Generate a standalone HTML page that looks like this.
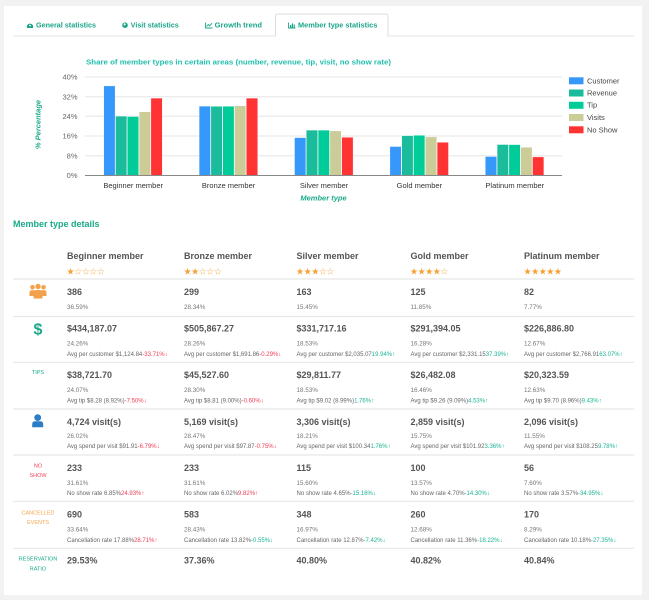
<!DOCTYPE html>
<html><head><meta charset="utf-8"><style>
html,body{margin:0;padding:0;background:#f2f2f2;}
svg{display:block;}
text{font-family:"Liberation Sans",sans-serif;}
.st{font-family:"DejaVu Sans",sans-serif;}
</style></head><body>
<svg width="649" height="600" viewBox="0 0 649 600" xmlns="http://www.w3.org/2000/svg">
<rect x="0" y="0" width="649" height="600" fill="#f2f2f2"/>
<rect x="4" y="6" width="638" height="589" fill="#ffffff"/>

<!-- Tabs -->
<line x1="13" y1="36" x2="634" y2="36" stroke="#e6e6e6" stroke-width="1"/>
<path d="M275.5 36.5 V16 Q275.5 14 277.5 14 H386 Q388 14 388 16 V36.5" fill="#fff" stroke="#dedede" stroke-width="1"/>
<line x1="276" y1="36" x2="387.5" y2="36" stroke="#fff" stroke-width="1.5"/>
<g fill="#1aa589" font-size="7" font-weight="bold">
  <path d="M27 28 A3.2 3.2 0 1 1 33 28 Z" fill="#1aa589"/>
  <circle cx="30" cy="25.5" r="0.9" fill="#fff"/>
  <text x="36" y="27.6" textLength="60" lengthAdjust="spacingAndGlyphs">General statistics</text>
  <circle cx="125" cy="25.2" r="2.8" fill="#1aa589"/>
  <path d="M123.5 24 l1.5 -1 l0.8 1.5 l-1.5 1.2 z" fill="#fff"/>
  <text x="130.7" y="27.6" textLength="48" lengthAdjust="spacingAndGlyphs">Visit statistics</text>
  <path d="M205.5 22.5 V28 H212.5" fill="none" stroke="#1aa589" stroke-width="0.9"/>
  <path d="M206.5 26.5 L208.3 24.5 L209.6 25.8 L212 23.2" fill="none" stroke="#1aa589" stroke-width="0.9"/>
  <text x="214.7" y="27.6" textLength="47.3" lengthAdjust="spacingAndGlyphs">Growth trend</text>
  <path d="M288.5 22.5 V28 H295.5" fill="none" stroke="#1aa589" stroke-width="0.9"/>
  <rect x="290" y="25" width="1.2" height="2.5"/>
  <rect x="291.8" y="23.5" width="1.2" height="4"/>
  <rect x="293.6" y="24.5" width="1.2" height="3"/>
  <text x="298" y="27.6" textLength="79.3" lengthAdjust="spacingAndGlyphs">Member type statistics</text>
</g>

<!-- Chart title -->
<text x="86" y="64.5" font-size="7.3" font-weight="bold" fill="#22bfae" textLength="305" lengthAdjust="spacingAndGlyphs">Share of member types in certain areas (number, revenue, tip, visit, no show rate)</text>

<!-- gridlines -->
<g stroke="#e6e6e6" stroke-width="1">
  <line x1="85" y1="77" x2="562" y2="77"/>
  <line x1="85" y1="96.7" x2="562" y2="96.7"/>
  <line x1="85" y1="116.3" x2="562" y2="116.3"/>
  <line x1="85" y1="136" x2="562" y2="136"/>
  <line x1="85" y1="155.7" x2="562" y2="155.7"/>
</g>
<g font-size="7.5" fill="#666" text-anchor="end">
  <text x="77.5" y="79.7">40%</text>
  <text x="77.5" y="99.4">32%</text>
  <text x="77.5" y="119">24%</text>
  <text x="77.5" y="138.7">16%</text>
  <text x="77.5" y="158.4">8%</text>
  <text x="77.5" y="178.2">0%</text>
</g>
<text transform="translate(40.5,124.5) rotate(-90)" text-anchor="middle" font-size="7.5" font-weight="bold" font-style="italic" fill="#1aaa8a">% Percentage</text>

<!-- bars -->
<g stroke="#ffffff" stroke-width="0.4">
  <rect x="103.7" y="85.9" width="11.4" height="89.6" fill="#3598fa"/>
  <rect x="115.5" y="116.1" width="11.4" height="59.4" fill="#1abc9c"/>
  <rect x="127.3" y="116.5" width="11.4" height="59" fill="#00cc99"/>
  <rect x="139.1" y="111.8" width="11.4" height="63.7" fill="#cccc99"/>
  <rect x="150.9" y="98.1" width="11.4" height="77.4" fill="#ff3333"/>
  <rect x="199.1" y="106.1" width="11.4" height="69.4" fill="#3598fa"/>
  <rect x="210.9" y="106.3" width="11.4" height="69.2" fill="#1abc9c"/>
  <rect x="222.7" y="106.2" width="11.4" height="69.3" fill="#00cc99"/>
  <rect x="234.5" y="105.7" width="11.4" height="69.8" fill="#cccc99"/>
  <rect x="246.3" y="98.1" width="11.4" height="77.4" fill="#ff3333"/>
  <rect x="294.5" y="137.6" width="11.4" height="37.9" fill="#3598fa"/>
  <rect x="306.3" y="130.1" width="11.4" height="45.4" fill="#1abc9c"/>
  <rect x="318.1" y="130.1" width="11.4" height="45.4" fill="#00cc99"/>
  <rect x="329.9" y="130.9" width="11.4" height="44.6" fill="#cccc99"/>
  <rect x="341.7" y="137.3" width="11.4" height="38.2" fill="#ff3333"/>
  <rect x="389.9" y="146.5" width="11.4" height="29" fill="#3598fa"/>
  <rect x="401.7" y="135.6" width="11.4" height="39.9" fill="#1abc9c"/>
  <rect x="413.5" y="135.2" width="11.4" height="40.3" fill="#00cc99"/>
  <rect x="425.3" y="136.9" width="11.4" height="38.6" fill="#cccc99"/>
  <rect x="437.1" y="142.3" width="11.4" height="33.2" fill="#ff3333"/>
  <rect x="485.3" y="156.5" width="11.4" height="19" fill="#3598fa"/>
  <rect x="497.1" y="144.5" width="11.4" height="31" fill="#1abc9c"/>
  <rect x="508.9" y="144.6" width="11.4" height="30.9" fill="#00cc99"/>
  <rect x="520.7" y="147.2" width="11.4" height="28.3" fill="#cccc99"/>
  <rect x="532.5" y="156.9" width="11.4" height="18.6" fill="#ff3333"/>
</g>
<line x1="85" y1="175.5" x2="562" y2="175.5" stroke="#888" stroke-width="1"/>
<g font-size="7.5" fill="#333" text-anchor="middle">
  <text x="133.2" y="187.8">Beginner member</text>
  <text x="228.6" y="187.8">Bronze member</text>
  <text x="324" y="187.8">Silver member</text>
  <text x="419.4" y="187.8">Gold member</text>
  <text x="514.8" y="187.8">Platinum member</text>
</g>
<text x="323.5" y="200.3" text-anchor="middle" font-size="7.5" font-weight="bold" font-style="italic" fill="#1aaa8a">Member type</text>

<!-- legend -->
<rect x="569" y="77.3" width="14.5" height="7" fill="#3598fa"/>
<rect x="569" y="89.5" width="14.5" height="7" fill="#1abc9c"/>
<rect x="569" y="101.8" width="14.5" height="7" fill="#00cc99"/>
<rect x="569" y="114" width="14.5" height="7" fill="#cccc99"/>
<rect x="569" y="126.3" width="14.5" height="7" fill="#ff3333"/>
<g font-size="7.5" fill="#444">
  <text x="587" y="83.3">Customer</text>
  <text x="587" y="95.4">Revenue</text>
  <text x="587" y="107.7">Tip</text>
  <text x="587" y="120">Visits</text>
  <text x="587" y="132.3">No Show</text>
</g>

<!-- Member type details -->
<text x="13" y="227.2" font-size="9" font-weight="bold" fill="#1aaa8a">Member type details</text>

<g font-size="9" font-weight="bold" fill="#555">
  <text x="67" y="259.2">Beginner member</text>
  <text x="184" y="259.2">Bronze member</text>
  <text x="296.5" y="259.2">Silver member</text>
  <text x="410.5" y="259.2">Gold member</text>
  <text x="524" y="259.2">Platinum member</text>
</g>
<g class="st" font-size="8.8" fill="#f5a030">
  <text x="66.5" y="274.3">★</text><text x="74.1" y="274.3">☆</text><text x="81.7" y="274.3">☆</text><text x="89.3" y="274.3">☆</text><text x="96.9" y="274.3">☆</text>
  <text x="183.5" y="274.3">★</text><text x="191.1" y="274.3">★</text><text x="198.7" y="274.3">☆</text><text x="206.3" y="274.3">☆</text><text x="213.9" y="274.3">☆</text>
  <text x="296" y="274.3">★</text><text x="303.6" y="274.3">★</text><text x="311.2" y="274.3">★</text><text x="318.8" y="274.3">☆</text><text x="326.4" y="274.3">☆</text>
  <text x="410" y="274.3">★</text><text x="417.6" y="274.3">★</text><text x="425.2" y="274.3">★</text><text x="432.8" y="274.3">★</text><text x="440.4" y="274.3">☆</text>
  <text x="523.5" y="274.3">★</text><text x="531.1" y="274.3">★</text><text x="538.7" y="274.3">★</text><text x="546.3" y="274.3">★</text><text x="553.9" y="274.3">★</text>
</g>

<g stroke="#e8e8e8" stroke-width="1.2">
  <line x1="13" y1="279" x2="634" y2="279"/>
  <line x1="13" y1="316.5" x2="634" y2="316.5"/>
  <line x1="13" y1="362.3" x2="634" y2="362.3"/>
  <line x1="13" y1="409" x2="634" y2="409"/>
  <line x1="13" y1="455" x2="634" y2="455"/>
  <line x1="13" y1="501.3" x2="634" y2="501.3"/>
  <line x1="13" y1="548.3" x2="634" y2="548.3"/>
</g>

<g fill="#f2a24a">
  <circle cx="32.5" cy="287.3" r="2.3"/>
  <circle cx="43.5" cy="287.3" r="2.3"/>
  <circle cx="38" cy="286.5" r="2.7"/>
  <path d="M29.5 296 V292.5 Q29.5 290.3 31.8 290.3 H35 V296 Z"/>
  <path d="M46.5 296 V292.5 Q46.5 290.3 44.2 290.3 H41 V296 Z"/>
  <path d="M33.5 298.5 V293 Q33.5 290 36.5 290 H39.5 Q42.5 290 42.5 293 V298.5 Z"/>
</g>
<text x="38" y="334.3" text-anchor="middle" font-size="16" font-weight="bold" fill="#1aa88a">$</text>
<text x="38" y="374" text-anchor="middle" font-size="5.5" fill="#1aaa8a">TIPS</text>
<g fill="#2a7dc6">
  <circle cx="37.7" cy="417.6" r="3.4"/>
  <path d="M32.2 427.2 V424.2 Q32.2 421.3 35.2 421.3 H40.2 Q43.2 421.3 43.2 424.2 V427.2 Z"/>
</g>
<g font-size="5.5" text-anchor="middle">
  <text x="38" y="467.7" fill="#f0455a">NO</text>
  <text x="38" y="477" fill="#f0455a">SHOW</text>
  <text x="38" y="514.3" fill="#f5a54a">CANCELLED</text>
  <text x="38" y="524" fill="#f5a54a">EVENTS</text>
  <text x="38" y="560.3" fill="#1aaa8a">RESERVATION</text>
  <text x="38" y="570.7" fill="#1aaa8a">RATIO</text>
</g>

<g font-size="9" font-weight="bold" fill="#555">
  <text x="67" y="295">386</text><text x="184" y="295">299</text><text x="296.5" y="295">163</text><text x="410.5" y="295">125</text><text x="524" y="295">82</text>
  <text x="67" y="331.5">$434,187.07</text><text x="184" y="331.5">$505,867.27</text><text x="296.5" y="331.5">$331,717.16</text><text x="410.5" y="331.5">$291,394.05</text><text x="524" y="331.5">$226,886.80</text>
  <text x="67" y="378">$38,721.70</text><text x="184" y="378">$45,527.60</text><text x="296.5" y="378">$29,811.77</text><text x="410.5" y="378">$26,482.08</text><text x="524" y="378">$20,323.59</text>
  <text x="67" y="424.8">4,724 visit(s)</text><text x="184" y="424.8">5,169 visit(s)</text><text x="296.5" y="424.8">3,306 visit(s)</text><text x="410.5" y="424.8">2,859 visit(s)</text><text x="524" y="424.8">2,096 visit(s)</text>
  <text x="67" y="470.8">233</text><text x="184" y="470.8">233</text><text x="296.5" y="470.8">115</text><text x="410.5" y="470.8">100</text><text x="524" y="470.8">56</text>
  <text x="67" y="517.4">690</text><text x="184" y="517.4">583</text><text x="296.5" y="517.4">348</text><text x="410.5" y="517.4">260</text><text x="524" y="517.4">170</text>
  <text x="67" y="563.4">29.53%</text><text x="184" y="563.4">37.36%</text><text x="296.5" y="563.4">40.80%</text><text x="410.5" y="563.4">40.82%</text><text x="524" y="563.4">40.84%</text>
</g>

<g font-size="6.3" fill="#777">
  <text x="67" y="309.2">36.59%</text><text x="184" y="309.2">28.34%</text><text x="296.5" y="309.2">15.45%</text><text x="410.5" y="309.2">11.85%</text><text x="524" y="309.2">7.77%</text>
  <text x="67" y="345.7">24.26%</text><text x="184" y="345.7">28.26%</text><text x="296.5" y="345.7">18.53%</text><text x="410.5" y="345.7">16.28%</text><text x="524" y="345.7">12.67%</text>
  <text x="67" y="391.9">24.07%</text><text x="184" y="391.9">28.30%</text><text x="296.5" y="391.9">18.53%</text><text x="410.5" y="391.9">16.46%</text><text x="524" y="391.9">12.63%</text>
  <text x="67" y="438.2">26.02%</text><text x="184" y="438.2">28.47%</text><text x="296.5" y="438.2">18.21%</text><text x="410.5" y="438.2">15.75%</text><text x="524" y="438.2">11.55%</text>
  <text x="67" y="484.9">31.61%</text><text x="184" y="484.9">31.61%</text><text x="296.5" y="484.9">15.60%</text><text x="410.5" y="484.9">13.57%</text><text x="524" y="484.9">7.60%</text>
  <text x="67" y="531.5">33.64%</text><text x="184" y="531.5">28.43%</text><text x="296.5" y="531.5">16.97%</text><text x="410.5" y="531.5">12.68%</text><text x="524" y="531.5">8.29%</text>
</g>

<g font-size="6" fill="#666">
  <text x="67" y="356.2">Avg per customer $1,124.84<tspan fill="#f03c55">-33.71%↓</tspan></text>
  <text x="184" y="356.2">Avg per customer $1,691.86<tspan fill="#f03c55">-0.29%↓</tspan></text>
  <text x="296.5" y="356.2">Avg per customer $2,035.07<tspan fill="#1ab394">19.94%↑</tspan></text>
  <text x="410.5" y="356.2">Avg per customer $2,331.15<tspan fill="#1ab394">37.39%↑</tspan></text>
  <text x="524" y="356.2">Avg per customer $2,766.91<tspan fill="#1ab394">63.07%↑</tspan></text>

  <text x="67" y="402.5">Avg tip $8.28 (8.92%)<tspan fill="#f03c55">-7.50%↓</tspan></text>
  <text x="184" y="402.5">Avg tip $8.81 (9.00%)<tspan fill="#f03c55">-0.60%↓</tspan></text>
  <text x="296.5" y="402.5">Avg tip $9.02 (8.99%)<tspan fill="#1ab394">1.76%↑</tspan></text>
  <text x="410.5" y="402.5">Avg tip $9.26 (9.09%)<tspan fill="#1ab394">4.53%↑</tspan></text>
  <text x="524" y="402.5">Avg tip $9.70 (8.96%)<tspan fill="#1ab394">9.43%↑</tspan></text>

  <text x="67" y="447.9">Avg spend per visit $91.91<tspan fill="#f03c55">-6.79%↓</tspan></text>
  <text x="184" y="447.9">Avg spend per visit $97.87<tspan fill="#f03c55">-0.75%↓</tspan></text>
  <text x="296.5" y="447.9">Avg spend per visit $100.34<tspan fill="#1ab394">1.76%↑</tspan></text>
  <text x="410.5" y="447.9">Avg spend per visit $101.92<tspan fill="#1ab394">3.36%↑</tspan></text>
  <text x="524" y="447.9">Avg spend per visit $108.25<tspan fill="#1ab394">9.78%↑</tspan></text>

  <text x="67" y="495.2">No show rate 6.85%<tspan fill="#f03c55">24.93%↑</tspan></text>
  <text x="184" y="495.2">No show rate 6.02%<tspan fill="#f03c55">9.82%↑</tspan></text>
  <text x="296.5" y="495.2">No show rate 4.65%<tspan fill="#1ab394">-15.16%↓</tspan></text>
  <text x="410.5" y="495.2">No show rate 4.70%<tspan fill="#1ab394">-14.30%↓</tspan></text>
  <text x="524" y="495.2">No show rate 3.57%<tspan fill="#1ab394">-34.95%↓</tspan></text>

  <text x="67" y="541.8">Cancellation rate 17.88%<tspan fill="#f03c55">28.71%↑</tspan></text>
  <text x="184" y="541.8">Cancellation rate 13.82%<tspan fill="#1ab394">-0.55%↓</tspan></text>
  <text x="296.5" y="541.8">Cancellation rate 12.87%<tspan fill="#1ab394">-7.42%↓</tspan></text>
  <text x="410.5" y="541.8">Cancellation rate 11.36%<tspan fill="#1ab394">-18.22%↓</tspan></text>
  <text x="524" y="541.8">Cancellation rate 10.18%<tspan fill="#1ab394">-27.35%↓</tspan></text>
</g>
</svg>
</body></html>
